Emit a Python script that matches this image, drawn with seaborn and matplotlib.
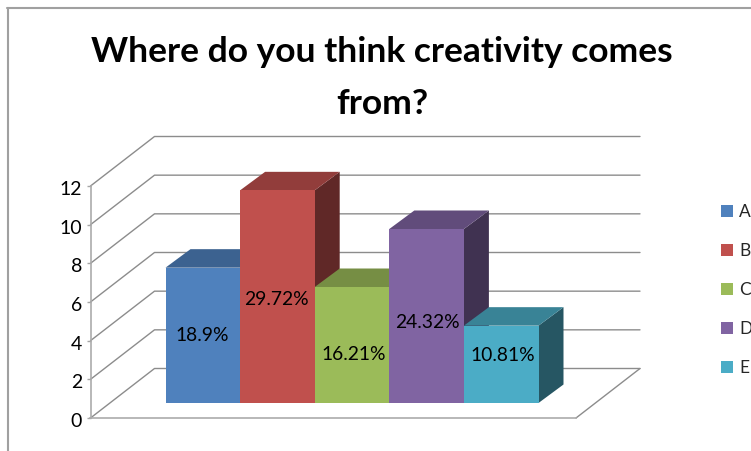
import matplotlib
matplotlib.use("Agg")
import matplotlib.pyplot as plt
from matplotlib.lines import Line2D
from matplotlib.patches import Polygon, Patch
from matplotlib.transforms import ScaledTranslation
import numpy as np
import pandas as pd
import seaborn as sns

categories = ["A", "B", "C", "D", "E"]
counts = [7, 11, 6, 9, 4]
share_labels = ["18.9%", "29.72%", "16.21%", "24.32%", "10.81%"]
title_text = "Where do you think creativity comes\nfrom?"
y_ticks = [0, 2, 4, 6, 8, 10, 12]
face_colors = ["#4F81BD", "#C0504D", "#9BBB59", "#8064A2", "#4BACC6"]

sns.set_theme(style="white")
plt.rcParams["font.family"] = ["Lato", "DejaVu Sans"]

W, H = 751, 451
fig = plt.figure(figsize=(W / 100, H / 100), dpi=100, facecolor="white")

# Axes box spans the front edge of the 3D floor and the front of the side wall
left_px, right_px, zero_px, top_px = 90.5, 576.0, 418.0, 186.0
ax = fig.add_axes([left_px / W, 1 - zero_px / H,
                   (right_px - left_px) / W, (zero_px - top_px) / H])

px_per_y = (zero_px - top_px) / 12
px_per_cat = 74.6
floor_lift = 15.0 / px_per_y          # bars stand slightly back from the floor edge
wall_dx, wall_dy = 64.0 / px_per_cat, 49.5 / px_per_y
bar_dx, bar_dy = 25.0 / px_per_cat, 18.5 / px_per_y

df = pd.DataFrame({"answer": categories, "count": counts})
sns.barplot(data=df, x="answer", y="count", hue="answer", palette=face_colors,
            width=1.0, bottom=floor_lift, saturation=1, legend=False,
            linewidth=0, zorder=6, ax=ax)

x0 = -0.5 - (165.5 - left_px) / px_per_cat
x1 = x0 + (right_px - left_px) / px_per_cat
ax.set_xlim(x0, x1)
ax.set_ylim(0, 12)
ax.set_xlabel("")
ax.set_ylabel("")
ax.set_xticks([])
ax.set_yticks(y_ticks)
ax.tick_params(axis="y", left=True, length=3, width=1, color="#A6A6A6",
               labelsize=14, labelcolor="black", pad=3)
for tick_label in ax.get_yticklabels():
    tick_label.set_transform(tick_label.get_transform()
                             + ScaledTranslation(0, -1.5 / 72, fig.dpi_scale_trans))
ax.patch.set_alpha(0)
for name, spine in ax.spines.items():
    spine.set_visible(name in ("left", "bottom"))
    spine.set_color("#ABABAB")
    spine.set_linewidth(1.2)

# Receding side-wall lines and gridlines along the back wall
grid_color = "#8C8C8C"
back_right = x1 + wall_dx
for t in y_ticks:
    ax.add_line(Line2D([x0, x0 + wall_dx, back_right],
                       [t, t + wall_dy, t + wall_dy],
                       color=grid_color, lw=1.0, clip_on=False, zorder=1))
ax.add_line(Line2D([x1, back_right], [0, wall_dy], color=grid_color, lw=1.0,
                   clip_on=False, zorder=1))

# Side then top faces of each column, stacked left to right so a column's top
# sits in front of the side of the column before it
shade = lambda c, f: tuple(v * f for v in matplotlib.colors.to_rgb(c))
bars = [p for cont in ax.containers for p in cont]
for i, (bar, color) in enumerate(zip(bars, face_colors)):
    xa, xb = bar.get_x(), bar.get_x() + bar.get_width()
    yb, yt = bar.get_y(), bar.get_y() + bar.get_height()
    ax.add_patch(Polygon([(xb, yb), (xb + bar_dx, yb + bar_dy), (xb + bar_dx, yt + bar_dy), (xb, yt)],
                         closed=True, fc=shade(color, 0.5), ec="none", clip_on=False,
                         zorder=3 + 0.2 * i))
    ax.add_patch(Polygon([(xa, yt), (xb, yt), (xb + bar_dx, yt + bar_dy), (xa + bar_dx, yt + bar_dy)],
                         closed=True, fc=shade(color, 0.76), ec="none", clip_on=False,
                         zorder=3.1 + 0.2 * i))

# Share labels, nudged the way the 3D columns place them
label_nudge_px = [0, -3, -9, -6, 9]
label_side_px = [-1, -1, 2, 1, 2]
for bar, text, dy, dx in zip(bars, share_labels, label_nudge_px, label_side_px):
    ax.annotate(text, (bar.get_x() + 0.5, bar.get_y() + bar.get_height() / 2),
                xytext=(dx * 0.72, dy * 0.72), textcoords="offset points",
                ha="center", va="center", fontsize=13.9, color="black", zorder=8,
                annotation_clip=False)

# Legend column on the right
handles = [Patch(fc=c, ec="none", label=k) for c, k in zip(face_colors, categories)]
fs = 12.5
px = 1 / (fs * 100 / 72)
fig.legend(handles=handles, loc="upper left", bbox_to_anchor=(721 / W, 1 - 204 / H),
           frameon=False, fontsize=fs, handlelength=12 * px, handleheight=12 * px,
           handletextpad=6 * px, labelspacing=23 * px, borderpad=0, borderaxespad=0)

fig.text(382 / W, 1 - 78 / H, title_text, ha="center", va="center", fontsize=25.5,
         fontweight="bold", color="black", linespacing=1.76)

# Outer chart frame, open at the right and bottom of the canvas
frame = "#A0A0A0"
fig.add_artist(Line2D([7.7 / W, 7.7 / W], [0, 1 - 7.7 / H], color=frame, lw=1.5))
fig.add_artist(Line2D([7 / W, 1], [1 - 7.7 / H, 1 - 7.7 / H], color=frame, lw=1.5))

fig.savefig("out.png", dpi=100, facecolor="white")
